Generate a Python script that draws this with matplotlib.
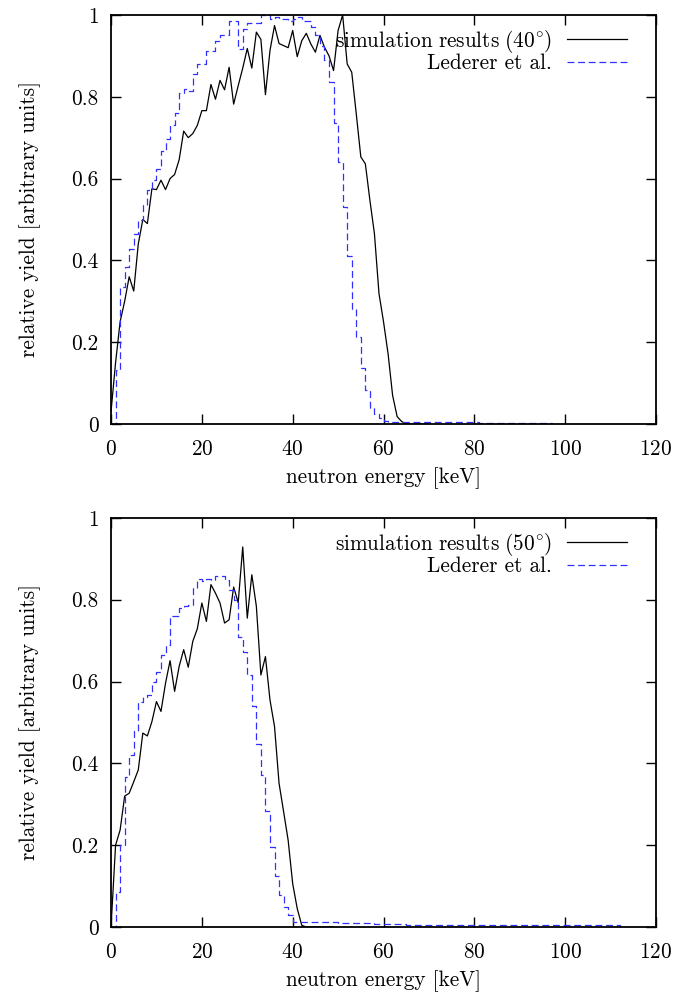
import numpy as np
import matplotlib
matplotlib.use('Agg')
import matplotlib.pyplot as plt
from matplotlib.ticker import FuncFormatter

plt.rcParams['font.family'] = ['cmr10', 'DejaVu Serif']
plt.rcParams['mathtext.fontset'] = 'cm'
plt.rcParams['axes.formatter.use_mathtext'] = True
plt.rcParams['font.size'] = 15.3

# simulation, 40 degrees (1 keV steps starting at 0 keV)
sim40 = [0.03, 0.15, 0.25, 0.30, 0.36, 0.325, 0.44, 0.50, 0.49, 0.575,
         0.573, 0.596, 0.573, 0.60, 0.61, 0.646, 0.716, 0.70, 0.71, 0.73,
         0.766, 0.766, 0.83, 0.794, 0.84, 0.817, 0.872, 0.782, 0.827, 0.87,
         0.918, 0.87, 0.958, 0.94, 0.805, 0.913, 0.974, 0.93, 0.925, 0.92,
         0.962, 0.898, 0.937, 0.955, 0.929, 0.909, 0.95, 0.921, 0.90, 0.864,
         0.962, 1.0, 0.88, 0.86, 0.758, 0.653, 0.636, 0.547, 0.465, 0.319,
         0.25, 0.172, 0.07, 0.018, 0.006, 0.0, 0.0, 0.0, 0.0, 0.0, 0.0]

# Lederer et al., 40 degrees (histogram, 1 keV bins starting at 0 keV)
led40 = [0.0, 0.132, 0.335, 0.384, 0.429, 0.465, 0.498, 0.535, 0.571, 0.596,
         0.624, 0.667, 0.697, 0.732, 0.760, 0.810, 0.819, 0.815, 0.856, 0.880,
         0.880, 0.913, 0.913, 0.937, 0.950, 0.950, 0.985, 0.985, 0.917, 0.966,
         0.980, 0.980, 0.980, 1.000, 1.000, 0.990, 0.995, 0.990, 0.990, 0.985,
         0.990, 0.995, 0.985, 0.985, 0.970, 0.950, 0.925, 0.890, 0.835, 0.735,
         0.640, 0.530, 0.410, 0.280, 0.213, 0.136, 0.083, 0.040, 0.024, 0.014,
         0.008, 0.005, 0.005, 0.005, 0.005, 0.005, 0.005, 0.005, 0.005, 0.005,
         0.005, 0.005, 0.005, 0.005, 0.005, 0.005, 0.005, 0.005, 0.005, 0.005,
         0.005, 0.003, 0.003, 0.003, 0.003, 0.003, 0.003, 0.003, 0.003, 0.003,
         0.003, 0.003, 0.003, 0.003, 0.003, 0.003, 0.003, 0.0]

# simulation, 50 degrees
sim50 = [0.0, 0.20, 0.237, 0.32, 0.327, 0.355, 0.384, 0.474, 0.467, 0.502,
         0.551, 0.527, 0.596, 0.651, 0.576, 0.637, 0.678, 0.635, 0.698, 0.729,
         0.792, 0.747, 0.837, 0.816, 0.792, 0.743, 0.751, 0.831, 0.793, 0.929,
         0.755, 0.861, 0.784, 0.616, 0.661, 0.555, 0.49, 0.351, 0.282, 0.212,
         0.106, 0.045, 0.004, 0.0, 0.0, 0.0, 0.0, 0.0, 0.0, 0.0]

# Lederer et al., 50 degrees
led50 = [0.0, 0.086, 0.200, 0.367, 0.420, 0.480, 0.549, 0.563, 0.567, 0.600,
         0.623, 0.665, 0.690, 0.761, 0.761, 0.780, 0.784, 0.788, 0.829, 0.851,
         0.847, 0.850, 0.849, 0.859, 0.859, 0.849, 0.824, 0.800, 0.710, 0.671,
         0.616, 0.539, 0.447, 0.371, 0.284, 0.196, 0.124, 0.078, 0.049, 0.029,
         0.012, 0.012, 0.012, 0.012, 0.012, 0.012, 0.011, 0.011, 0.011, 0.011,
         0.010, 0.010, 0.010, 0.010, 0.010, 0.009, 0.009, 0.009, 0.008, 0.008,
         0.007, 0.007, 0.007, 0.007, 0.007, 0.006, 0.006, 0.006, 0.006, 0.006,
         0.005, 0.005, 0.005, 0.005, 0.005, 0.005, 0.004, 0.004, 0.004, 0.004,
         0.004, 0.004, 0.004, 0.004, 0.004, 0.004, 0.004, 0.004, 0.004, 0.004,
         0.004, 0.004, 0.004, 0.004, 0.004, 0.004, 0.004, 0.004, 0.004, 0.004,
         0.004, 0.004, 0.004, 0.004, 0.004, 0.004, 0.004, 0.004, 0.004, 0.004,
         0.004, 0.004, 0.0]

yticks = [0, 0.2, 0.4, 0.6, 0.8, 1]
xticks = [0, 20, 40, 60, 80, 100, 120]

fig = plt.figure(figsize=(6.77, 9.96), dpi=100)
ax1 = fig.add_axes([0.164, 0.5743, 0.805, 0.4107])
ax2 = fig.add_axes([0.164, 0.0693, 0.805, 0.4107])

panels = [(ax1, sim40, led40, r'$\mathrm{simulation\ results\ (40^{\circ})}$'),
          (ax2, sim50, led50, r'$\mathrm{simulation\ results\ (50^{\circ})}$')]

for ax, sim, led, lab in panels:
    ax.plot(np.arange(len(sim)), sim, color='black', lw=0.9, label=lab)
    ax.step(np.arange(len(led)), led, where='post', color='#3030ff',
            lw=0.9, dashes=(5.5, 3), label='Lederer et al.')
    ax.set_xlim(0, 120)
    ax.set_ylim(0, 1)
    ax.set_xticks(xticks)
    ax.set_yticks(yticks)
    ax.yaxis.set_major_formatter(FuncFormatter(lambda v, p: '%g' % v))
    ax.tick_params(direction='in', top=True, right=True, length=7.5,
                   width=1.0)
    ax.tick_params(axis='x', pad=11)
    ax.tick_params(axis='y', pad=9)
    for s in ax.spines.values():
        s.set_linewidth(1.3)
    ax.set_xlabel('neutron energy [keV]', labelpad=6)
    ax.set_ylabel('relative yield [arbitrary units]', labelpad=22)
    ax.legend(loc='upper right', bbox_to_anchor=(0.9615, 0.99),
              borderaxespad=0, frameon=False, markerfirst=False,
              handlelength=2.8, handletextpad=0.7, labelspacing=-0.05)

plt.savefig('out.png', dpi=100)
